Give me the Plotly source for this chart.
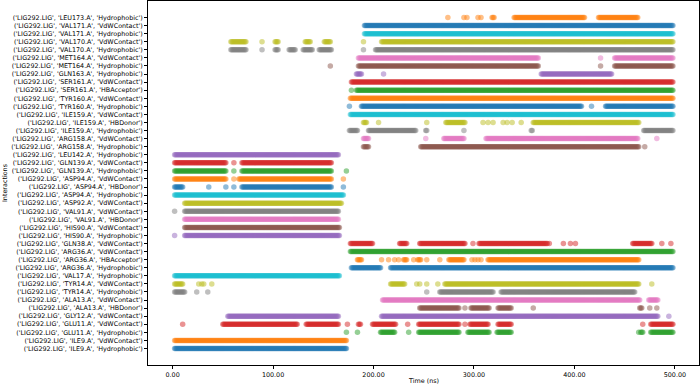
import numpy as np
import plotly.graph_objects as go

# rows listed bottom -> top
residues = ["ILE9.A", "ILE9.A", "GLU11.A", "GLU11.A", "GLY12.A", "ALA13.A", "ALA13.A",
            "TYR14.A", "TYR14.A", "VAL17.A", "ARG36.A", "ARG36.A", "ARG36.A", "GLN38.A",
            "HIS90.A", "HIS90.A", "VAL91.A", "VAL91.A", "ASP92.A", "ASP94.A", "ASP94.A",
            "ASP94.A", "GLN139.A", "GLN139.A", "LEU142.A", "ARG158.A", "ARG158.A",
            "ILE159.A", "ILE159.A", "ILE159.A", "TYR160.A", "TYR160.A", "SER161.A",
            "SER161.A", "GLN163.A", "MET164.A", "MET164.A", "VAL170.A", "VAL170.A",
            "VAL171.A", "VAL171.A", "LEU173.A"]
itypes = ["Hydrophobic", "VdWContact", "Hydrophobic", "VdWContact", "VdWContact", "HBDonor",
          "VdWContact", "Hydrophobic", "VdWContact", "Hydrophobic", "Hydrophobic",
          "HBAcceptor", "VdWContact", "VdWContact", "Hydrophobic", "VdWContact", "HBDonor",
          "VdWContact", "VdWContact", "Hydrophobic", "HBDonor", "VdWContact", "Hydrophobic",
          "VdWContact", "Hydrophobic", "Hydrophobic", "VdWContact", "Hydrophobic", "HBDonor",
          "VdWContact", "Hydrophobic", "VdWContact", "HBAcceptor", "VdWContact",
          "Hydrophobic", "Hydrophobic", "VdWContact", "Hydrophobic", "VdWContact",
          "Hydrophobic", "VdWContact", "Hydrophobic"]

# time spans (ns) in which each interaction is present (start, end)
present_spans = [
    [(2, 173)],
    [(2, 173)],
    [(173, 173), (184, 184), (207, 221), (235, 235), (245, 285), (294, 315), (323, 337), (464, 464), (466, 468), (476, 498)],
    [(10, 10), (50, 124), (133, 165), (174, 174), (185, 187), (199, 222), (234, 234), (245, 285), (291, 291), (296, 314), (324, 337), (468, 468), (476, 498)],
    [(55, 165), (208, 483), (494, 494)],
    [(246, 285), (291, 291), (297, 315), (324, 337), (359, 359), (465, 467), (475, 475), (482, 482)],
    [(209, 465), (474, 483)],
    [(2, 12), (24, 24), (35, 35), (253, 253), (266, 319), (327, 460)],
    [(2, 10), (26, 26), (29, 29), (31, 31), (39, 39), (217, 231), (243, 243), (246, 246), (253, 253), (264, 264), (271, 464), (477, 477)],
    [(2, 166)],
    [(178, 207), (217, 498)],
    [(184, 188), (208, 208), (215, 215), (221, 221), (225, 225), (230, 233), (240, 240), (244, 247), (253, 253), (266, 266), (275, 290), (298, 298), (301, 301), (304, 304), (307, 307), (314, 464)],
    [(177, 498)],
    [(177, 199), (226, 233), (246, 291), (299, 299), (305, 373), (375, 375), (389, 389), (396, 396), (401, 401), (458, 477), (487, 487), (496, 496)],
    [(2, 2), (12, 166)],
    [(12, 166)],
    [(12, 165)],
    [(2, 2), (12, 165)],
    [(12, 168)],
    [(2, 170)],
    [(2, 10), (36, 36), (53, 53), (61, 61), (69, 158), (170, 170)],
    [(2, 53), (61, 61), (66, 158), (170, 170)],
    [(2, 53), (61, 61), (69, 158), (173, 173)],
    [(2, 53), (61, 61), (69, 158)],
    [(2, 165)],
    [(190, 195), (247, 464), (470, 470)],
    [(190, 195), (252, 252), (270, 290), (312, 463), (482, 482)],
    [(176, 184), (195, 242), (252, 253), (290, 290), (357, 358), (469, 498)],
    [(190, 193), (205, 205), (253, 253), (272, 291), (309, 309), (314, 314), (319, 319), (329, 329), (333, 333), (338, 338), (347, 347), (359, 464)],
    [(177, 498)],
    [(176, 176), (188, 407), (417, 417), (431, 498)],
    [(177, 498)],
    [(178, 178), (183, 498)],
    [(178, 498)],
    [(183, 188), (210, 210), (367, 437)],
    [(157, 157), (185, 364), (426, 426), (440, 498)],
    [(185, 364), (426, 426), (440, 498)],
    [(58, 73), (89, 89), (102, 105), (116, 122), (130, 139), (146, 158), (190, 190), (202, 498)],
    [(58, 73), (89, 89), (102, 105), (132, 137), (151, 157), (190, 190), (208, 498)],
    [(191, 498)],
    [(191, 498)],
    [(274, 274), (290, 290), (293, 293), (304, 304), (307, 307), (318, 320), (340, 410), (424, 463)],
]
frame_step = 1.0  # ns between frames
x_ticks = [0, 100, 200, 300, 400, 500]

tab10 = ["#1f77b4", "#ff7f0e", "#2ca02c", "#d62728", "#9467bd",
         "#8c564b", "#e377c2", "#7f7f7f", "#bcbd22", "#17becf"]

labels = [f"('LIG292.LIG', '{r}', '{t}')" for r, t in zip(residues, itypes)]

fig = go.Figure()
for i, spans in enumerate(present_spans):
    times = np.concatenate([np.arange(a, b + 1e-6, frame_step) for a, b in spans])
    fig.add_trace(go.Scatter(
        x=times, y=np.full(len(times), i), mode="markers",
        marker=dict(size=5.5, color=tab10[i % 10], opacity=0.5, line=dict(width=0)),
        name=labels[i], showlegend=False, hoverinfo="x+text", text=[labels[i]] * len(times)))

font = dict(family="DejaVu Sans", size=6.4, color="black")
fig.update_layout(
    width=700, height=385,
    margin=dict(l=148, r=1, t=1, b=20, pad=0, autoexpand=False),
    paper_bgcolor="white", plot_bgcolor="white",
    font=font,
    xaxis=dict(range=[-24.5, 524], tickvals=x_ticks, tickformat=".2f", automargin=False,
               showgrid=False, zeroline=False, showline=True, linecolor="black",
               linewidth=0.8, mirror=True, ticks="outside", ticklen=3, tickwidth=0.8,
               tickcolor="black", tickfont=font),
    yaxis=dict(range=[-2.05, 43.05], tickvals=list(range(len(labels))), ticktext=labels,
               automargin=False,
               showgrid=False, zeroline=False, showline=True, linecolor="black",
               linewidth=0.8, mirror=True, ticks="outside", ticklen=3, tickwidth=0.8,
               tickcolor="black", tickfont=font),
    annotations=[
        dict(text="Time (ns)", xref="paper", yref="paper", x=0.5, y=-0.044,
             xanchor="center", yanchor="middle", showarrow=False, font=font),
        dict(text="Interactions", xref="paper", yref="paper", x=-0.2595, y=0.5,
             xanchor="center", yanchor="middle", textangle=-90, showarrow=False, font=font),
    ],
)
fig.write_html("out.html", config={"displayModeBar": False},
               post_script="document.body.style.margin='0';document.body.style.padding='0';")
